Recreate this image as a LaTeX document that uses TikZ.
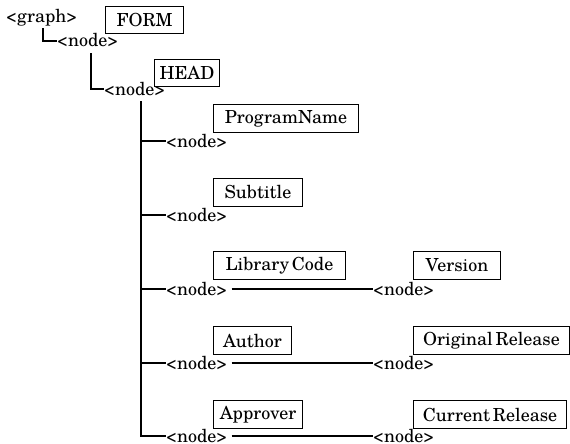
\documentclass[tikz,border=0pt]{standalone}
\usepackage{fontspec}
\setmainfont{texgyreschola-regular.otf}
\newcommand\labelfont{\fontsize{18}{20}\selectfont\setlength\spaceskip{0.15em}}
\begin{document}
\begin{tikzpicture}[x=1pt,y=-1pt,
  every node/.style={font=\labelfont},
  tag/.style={inner sep=0pt, text height=12pt, text depth=0pt, anchor=west},
  field/.style={draw, line width=1pt, inner sep=0pt, anchor=north west, minimum height=28pt},
  link/.style={line width=1.1pt}]
\useasboundingbox (0,0) rectangle (570,444);

% tree tags
\node[tag] (g)  at (6,17)    {<graph>};
\node[tag] (n1) at (57,41)   {<node>};
\node[tag] (n2) at (104,89)  {<node>};
\node[tag] (p)  at (166,141) {<node>};
\node[tag] (s)  at (166,215) {<node>};
\node[tag] (l)  at (166,289) {<node>};
\node[tag] (a)  at (166,363) {<node>};
\node[tag] (r)  at (166,436) {<node>};
\node[tag] (v)  at (373,289) {<node>};
\node[tag] (o)  at (373,363) {<node>};
\node[tag] (c)  at (373,436) {<node>};

% labelled boxes
\node[field, minimum width=78pt, minimum height=27pt]  (form) at (105,6)   {FORM};
\node[field, minimum width=65pt, minimum height=27pt]  (head) at (154,59)  {HEAD};
\node[field, minimum width=145pt] (pname) at (213,104) {ProgramName};
\node[field, minimum width=89pt]  (sub)   at (213,178) {Subtitle};
\node[field, minimum width=132pt] (lib)   at (213,251) {Library Code};
\node[field, minimum width=78pt]  (auth)  at (213,326) {Author};
\node[field, minimum width=89pt]  (appr)  at (213,400) {Approver};
\node[field, minimum width=87pt]  (ver)   at (413,251) {Version};
\node[field, minimum width=156pt] (orig)  at (413,326) {Original Release};
\node[field, minimum width=153pt] (cur)   at (413,400) {Current Release};

% connectors
\draw[link] ([xshift=37pt,yshift=-5pt]g.south west) |- (n1.west);
\draw[link] ([xshift=34pt,yshift=-6pt]n1.south west) |- (n2.west);
\coordinate (trunk) at ([xshift=37pt,yshift=-6pt]n2.south west);
\draw[link] (trunk) |- (r.west);
\draw[link] (trunk |- p.west) -- (p.west);
\draw[link] (trunk |- s.west) -- (s.west);
\draw[link] (trunk |- l.west) -- (l.west);
\draw[link] (trunk |- a.west) -- (a.west);
\draw[link] ([xshift=4pt]l.east) -- (v.west);
\draw[link] ([xshift=4pt]a.east) -- (o.west);
\draw[link] ([xshift=4pt]r.east) -- (c.west);
\end{tikzpicture}
\end{document}
